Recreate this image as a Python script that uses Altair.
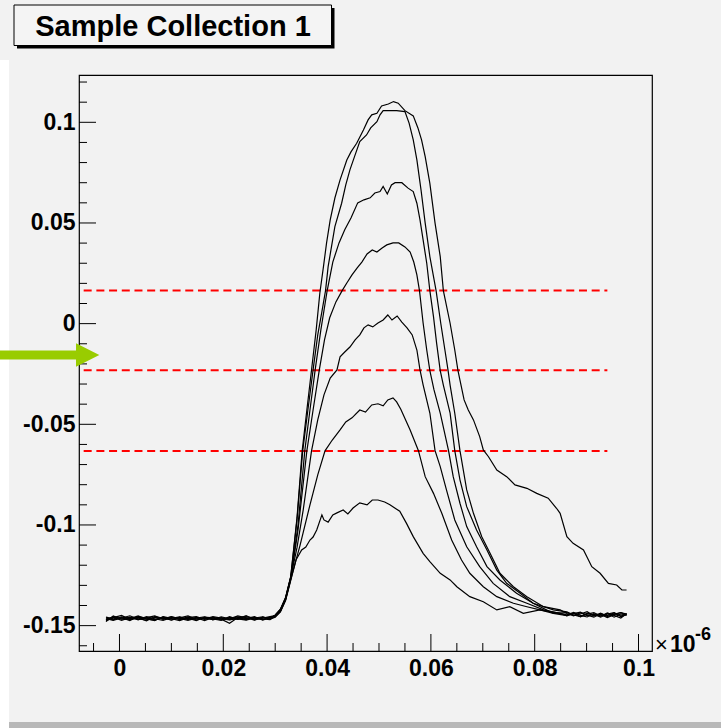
import altair as alt
import pandas as pd

# ---------------- data (x in units of 1e-6, as on the axis) ----------------
base_x = [-0.0026, -0.0012, 0.0004, 0.0020, 0.0036, 0.0052, 0.0068, 0.0084, 0.0100, 0.0116,
          0.0132, 0.0148, 0.0164, 0.0180, 0.0196, 0.0212, 0.0228, 0.0244, 0.0260, 0.0276, 0.0290]
rise_x = [0.0300, 0.0310, 0.0320, 0.0330]
tail_x = [0.0862, 0.0875, 0.0888, 0.0901, 0.0914, 0.0927, 0.0940, 0.0953, 0.0966, 0.0977]

c1_base = [-0.1480, -0.1452, -0.1468, -0.1458, -0.1471, -0.1455, -0.1466, -0.1474, -0.1460, -0.1469,
           -0.1457, -0.1472, -0.1463, -0.1470, -0.1456, -0.1466, -0.1452, -0.1461, -0.1468, -0.1459, -0.1462]
c2_base = [-0.1475, -0.1460, -0.1449, -0.1470, -0.1462, -0.1476, -0.1455, -0.1463, -0.1472, -0.1458,
           -0.1467, -0.1461, -0.1475, -0.1459, -0.1468, -0.1488, -0.1460, -0.1455, -0.1463, -0.1470, -0.1458]
c3_base = [-0.1462, -0.1471, -0.1456, -0.1465, -0.1452, -0.1468, -0.1473, -0.1458, -0.1466, -0.1475,
           -0.1460, -0.1455, -0.1469, -0.1462, -0.1472, -0.1459, -0.1466, -0.1450, -0.1471, -0.1463, -0.1455]
c4_base = [-0.1470, -0.1458, -0.1474, -0.1461, -0.1468, -0.1460, -0.1452, -0.1469, -0.1457, -0.1464,
           -0.1474, -0.1463, -0.1456, -0.1471, -0.1460, -0.1468, -0.1457, -0.1465, -0.1455, -0.1472, -0.1460]
c5_base = [-0.1458, -0.1466, -0.1460, -0.1475, -0.1455, -0.1463, -0.1470, -0.1459, -0.1473, -0.1461,
           -0.1452, -0.1468, -0.1460, -0.1466, -0.1474, -0.1455, -0.1469, -0.1461, -0.1473, -0.1458, -0.1466]
c6_base = [-0.1466, -0.1474, -0.1462, -0.1451, -0.1467, -0.1472, -0.1459, -0.1466, -0.1455, -0.1470,
           -0.1463, -0.1475, -0.1458, -0.1461, -0.1467, -0.1472, -0.1463, -0.1470, -0.1459, -0.1466, -0.1470]
c7_base = [-0.1472, -0.1455, -0.1467, -0.1469, -0.1458, -0.1466, -0.1475, -0.1455, -0.1464, -0.1457,
           -0.1470, -0.1459, -0.1467, -0.1455, -0.1463, -0.1470, -0.1466, -0.1473, -0.1462, -0.1456, -0.1468]

c1_rise = [-0.1448, -0.1418, -0.1360, -0.1255]
c2_rise = [-0.1452, -0.1422, -0.1362, -0.1258]
c3_rise = [-0.1450, -0.1425, -0.1366, -0.1262]
c4_rise = [-0.1455, -0.1428, -0.1370, -0.1266]
c5_rise = [-0.1447, -0.1420, -0.1365, -0.1260]
c6_rise = [-0.1452, -0.1430, -0.1372, -0.1270]
c7_rise = [-0.1458, -0.1432, -0.1375, -0.1275]

c1_x = [0.0342, 0.0352, 0.0361, 0.0370, 0.0379, 0.0386, 0.0393, 0.0399, 0.0406, 0.0415,
        0.0425, 0.0438, 0.0446, 0.0457, 0.0470, 0.0479, 0.0486, 0.0496, 0.0505, 0.0518,
        0.0528, 0.0537, 0.0550, 0.0566, 0.0575, 0.0582, 0.0589, 0.0598, 0.0608, 0.0618,
        0.0624, 0.0637, 0.0646, 0.0652, 0.0656, 0.0664, 0.0672, 0.0682, 0.0694, 0.0701,
        0.0711, 0.0727, 0.0746, 0.0762, 0.0785, 0.0804, 0.0826, 0.0842, 0.0849, 0.0862,
        0.0874, 0.0894, 0.0910, 0.0926, 0.0942, 0.0958, 0.0968, 0.0977]
c1_y = [-0.0965, -0.0632, -0.0429, -0.0230, -0.0031, 0.0151, 0.0283, 0.0401, 0.0515, 0.0624,
        0.0714, 0.0813, 0.0853, 0.0896, 0.0962, 0.1012, 0.1037, 0.1045, 0.1081, 0.1091,
        0.1103, 0.1095, 0.1058, 0.1032, 0.0972, 0.0913, 0.0830, 0.0697, 0.0499, 0.0333,
        0.0164, 0.0002, -0.0131, -0.0231, -0.0280, -0.0379, -0.0429, -0.0478, -0.0561, -0.0627,
        -0.0661, -0.0727, -0.0760, -0.0801, -0.0818, -0.0843, -0.0867, -0.0917, -0.0942, -0.1058,
        -0.1091, -0.1124, -0.1207, -0.1240, -0.1290, -0.1298, -0.1323, -0.1323]

c2_x = [0.0342, 0.0353, 0.0363, 0.0373, 0.0382, 0.0390, 0.0397, 0.0402, 0.0415, 0.0428,
        0.0436, 0.0444, 0.0454, 0.0463, 0.0476, 0.0484, 0.0496, 0.0502, 0.0508, 0.0534,
        0.0550, 0.0558, 0.0566, 0.0573, 0.0581, 0.0589, 0.0598, 0.0610, 0.0619, 0.0627,
        0.0633, 0.0637, 0.0646, 0.0656, 0.0669, 0.0682, 0.0698, 0.0714, 0.0733, 0.0759,
        0.0785, 0.0817, 0.0849]
c2_y = [-0.0975, -0.0632, -0.0429, -0.0230, -0.0056, 0.0060, 0.0164, 0.0283, 0.0482, 0.0598,
        0.0689, 0.0764, 0.0838, 0.0904, 0.0937, 0.0972, 0.1003, 0.1037, 0.1058, 0.1058,
        0.1053, 0.0996, 0.0913, 0.0813, 0.0664, 0.0499, 0.0333, 0.0164, 0.0002, -0.0131,
        -0.0231, -0.0305, -0.0445, -0.0631, -0.0826, -0.0942, -0.1058, -0.1141, -0.1240, -0.1307,
        -0.1356, -0.1406, -0.1422]

c3_x = [0.0344, 0.0357, 0.0367, 0.0377, 0.0388, 0.0400, 0.0411, 0.0423, 0.0434, 0.0446,
        0.0459, 0.0471, 0.0483, 0.0492, 0.0502, 0.0508, 0.0516, 0.0524, 0.0531, 0.0544,
        0.0556, 0.0566, 0.0573, 0.0579, 0.0585, 0.0592, 0.0598, 0.0605, 0.0611, 0.0618,
        0.0624, 0.0637, 0.0646, 0.0656, 0.0669, 0.0688, 0.0708, 0.0727, 0.0746, 0.0772,
        0.0797, 0.0836]
c3_y = [-0.1000, -0.0632, -0.0429, -0.0230, -0.0031, 0.0162, 0.0306, 0.0401, 0.0466, 0.0525,
        0.0600, 0.0615, 0.0625, 0.0649, 0.0656, 0.0681, 0.0644, 0.0689, 0.0700, 0.0700,
        0.0673, 0.0656, 0.0598, 0.0515, 0.0416, 0.0300, 0.0164, 0.0035, -0.0097, -0.0233,
        -0.0305, -0.0445, -0.0631, -0.0776, -0.0909, -0.1025, -0.1124, -0.1224, -0.1290, -0.1339,
        -0.1389, -0.1439]

c4_x = [0.0344, 0.0361, 0.0373, 0.0385, 0.0395, 0.0405, 0.0417, 0.0429, 0.0438, 0.0448,
        0.0458, 0.0467, 0.0477, 0.0487, 0.0496, 0.0506, 0.0515, 0.0527, 0.0538, 0.0550,
        0.0560, 0.0567, 0.0573, 0.0578, 0.0585, 0.0592, 0.0598, 0.0606, 0.0618, 0.0634,
        0.0643, 0.0656, 0.0669, 0.0688, 0.0708, 0.0733, 0.0765, 0.0797, 0.0836]
c4_y = [-0.1025, -0.0632, -0.0429, -0.0230, -0.0081, 0.0029, 0.0108, 0.0164, 0.0202, 0.0242,
        0.0277, 0.0306, 0.0346, 0.0366, 0.0356, 0.0376, 0.0391, 0.0401, 0.0401, 0.0381,
        0.0356, 0.0306, 0.0242, 0.0164, 0.0003, -0.0131, -0.0233, -0.0329, -0.0444, -0.0631,
        -0.0760, -0.0892, -0.1008, -0.1108, -0.1207, -0.1273, -0.1339, -0.1389, -0.1422]

c5_x = [0.0342, 0.0354, 0.0370, 0.0382, 0.0394, 0.0406, 0.0419, 0.0425, 0.0434, 0.0444,
        0.0454, 0.0463, 0.0471, 0.0479, 0.0488, 0.0498, 0.0508, 0.0517, 0.0525, 0.0535,
        0.0544, 0.0554, 0.0564, 0.0573, 0.0579, 0.0585, 0.0598, 0.0608, 0.0618, 0.0630,
        0.0646, 0.0669, 0.0694, 0.0720, 0.0752, 0.0785, 0.0817, 0.0849]
c5_y = [-0.1113, -0.0925, -0.0632, -0.0478, -0.0354, -0.0270, -0.0230, -0.0165, -0.0141, -0.0116,
        -0.0081, -0.0056, -0.0021, -0.0006, -0.0016, 0.0003, 0.0018, 0.0043, 0.0018, 0.0038,
        0.0008, -0.0021, -0.0056, -0.0131, -0.0230, -0.0304, -0.0444, -0.0631, -0.0710, -0.0826,
        -0.0975, -0.1108, -0.1207, -0.1290, -0.1356, -0.1389, -0.1422, -0.1439]

c6_x = [0.0348, 0.0367, 0.0382, 0.0396, 0.0410, 0.0425, 0.0436, 0.0448, 0.0463, 0.0474,
        0.0486, 0.0498, 0.0508, 0.0517, 0.0527, 0.0534, 0.0542, 0.0560, 0.0576, 0.0589,
        0.0605, 0.0621, 0.0640, 0.0659, 0.0675, 0.0701, 0.0727, 0.0759, 0.0785, 0.0810,
        0.0836]
c6_y = [-0.1100, -0.0900, -0.0751, -0.0632, -0.0578, -0.0528, -0.0488, -0.0468, -0.0429, -0.0439,
        -0.0404, -0.0398, -0.0408, -0.0379, -0.0369, -0.0389, -0.0425, -0.0528, -0.0631, -0.0760,
        -0.0843, -0.0942, -0.1075, -0.1174, -0.1240, -0.1307, -0.1356, -0.1389, -0.1406, -0.1422,
        -0.1439]

c7_x = [0.0340, 0.0351, 0.0359, 0.0367, 0.0373, 0.0380, 0.0390, 0.0394, 0.0402, 0.0411,
        0.0419, 0.0431, 0.0440, 0.0450, 0.0463, 0.0477, 0.0487, 0.0498, 0.0511, 0.0521,
        0.0540, 0.0553, 0.0566, 0.0585, 0.0598, 0.0618, 0.0637, 0.0650, 0.0675, 0.0701,
        0.0727, 0.0752, 0.0778, 0.0810, 0.0849]
c7_y = [-0.1174, -0.1124, -0.1110, -0.1075, -0.1060, -0.1025, -0.0950, -0.0975, -0.0986, -0.0950,
        -0.0940, -0.0926, -0.0945, -0.0916, -0.0890, -0.0900, -0.0876, -0.0876, -0.0886, -0.0900,
        -0.0932, -0.0992, -0.1058, -0.1141, -0.1182, -0.1240, -0.1273, -0.1307, -0.1356, -0.1381,
        -0.1422, -0.1406, -0.1439, -0.1422, -0.1439]

c2_tail = [-0.1440, -0.1452, -0.1436, -0.1448, -0.1458, -0.1441, -0.1450, -0.1437, -0.1455, -0.1445]
c3_tail = [-0.1450, -0.1438, -0.1456, -0.1443, -0.1435, -0.1452, -0.1440, -0.1458, -0.1442, -0.1448]
c4_tail = [-0.1432, -0.1447, -0.1455, -0.1438, -0.1450, -0.1444, -0.1460, -0.1446, -0.1435, -0.1443]
c5_tail = [-0.1446, -0.1434, -0.1449, -0.1457, -0.1440, -0.1453, -0.1437, -0.1449, -0.1462, -0.1440]
c6_tail = [-0.1435, -0.1449, -0.1442, -0.1431, -0.1451, -0.1438, -0.1455, -0.1443, -0.1436, -0.1447]
c7_tail = [-0.1452, -0.1440, -0.1433, -0.1450, -0.1444, -0.1458, -0.1442, -0.1435, -0.1452, -0.1441]

cut_levels = [0.0164, -0.0232, -0.0632]
cut_x_start = -0.0069
cut_x_end = 0.0940

y_major = [-0.15, -0.1, -0.05, 0, 0.05, 0.1]
y_minor = [-0.16, -0.14, -0.13, -0.12, -0.11, -0.09, -0.08, -0.07, -0.06, -0.04, -0.03, -0.02,
           -0.01, 0.01, 0.02, 0.03, 0.04, 0.06, 0.07, 0.08, 0.09, 0.11, 0.12]
x_major = [0, 0.02, 0.04, 0.06, 0.08, 0.1]
x_minor = [-0.005, 0.005, 0.01, 0.015, 0.025, 0.03, 0.035, 0.045, 0.05, 0.055, 0.065, 0.07,
           0.075, 0.085, 0.09, 0.095]

title_text = "Sample Collection 1"

# ---------------- build table ----------------
curves = [
    ("c1", c1_base, c1_rise, c1_x, c1_y, None),
    ("c2", c2_base, c2_rise, c2_x, c2_y, c2_tail),
    ("c3", c3_base, c3_rise, c3_x, c3_y, c3_tail),
    ("c4", c4_base, c4_rise, c4_x, c4_y, c4_tail),
    ("c5", c5_base, c5_rise, c5_x, c5_y, c5_tail),
    ("c6", c6_base, c6_rise, c6_x, c6_y, c6_tail),
    ("c7", c7_base, c7_rise, c7_x, c7_y, c7_tail),
]
rows = []
for name, b, r, mx, my, t in curves:
    assert len(mx) == len(my), name
    xs = base_x + rise_x + mx + (tail_x if t else [])
    ys = b + r + my + (t if t else [])
    for i, (xv, yv) in enumerate(zip(xs, ys)):
        rows.append({"x": xv, "y": yv, "curve": name, "i": i})
df = pd.DataFrame(rows)

W, H = 573, 576
xscale = alt.Scale(domain=[-0.0078, 0.1026], nice=False, zero=False)
yscale = alt.Scale(domain=[-0.1626, 0.1235], nice=False, zero=False)
FONT = "Liberation Sans"
BG = "#f2f2f2"

xaxis = alt.Axis(values=x_major, labelExpr="'' + datum.value", ticks=False, tickSize=0,
                 domain=False, grid=False, title=None, labelFont=FONT, labelFontWeight="bold",
                 labelFontSize=23, labelColor="black", labelPadding=6, labelFlush=False,
                 labelOverlap=False)
yaxis = alt.Axis(values=y_major, labelExpr="'' + datum.value", ticks=False, tickSize=0,
                 domain=False, grid=False, title=None, labelFont=FONT, labelFontWeight="bold",
                 labelFontSize=23, labelColor="black", labelPadding=4, labelFlush=False,
                 labelOverlap=False)

one = alt.Data(values=[{"a": 1}])

lines = alt.Chart(df).mark_line(color="black", strokeWidth=1.2, clip=True).encode(
    x=alt.X("x:Q", scale=xscale, axis=xaxis),
    y=alt.Y("y:Q", scale=yscale, axis=yaxis),
    detail="curve:N",
    order="i:Q",
)

cut_df = pd.DataFrame({"level": cut_levels, "xs": [cut_x_start] * 3, "xe": [cut_x_end] * 3})
cuts = alt.Chart(cut_df).mark_rule(color="#ff0000", strokeWidth=2, strokeDash=[8, 4.7]).encode(
    x=alt.X("xs:Q", scale=xscale, axis=xaxis),
    x2="xe:Q",
    y=alt.Y("level:Q", scale=yscale, axis=yaxis),
)

ytick_major = alt.Chart(pd.DataFrame({"v": y_major})).mark_rule(color="black", strokeWidth=1).encode(
    y=alt.Y("v:Q", scale=yscale, axis=yaxis), x=alt.value(0), x2=alt.value(17))
ytick_minor = alt.Chart(pd.DataFrame({"v": y_minor})).mark_rule(color="black", strokeWidth=1).encode(
    y=alt.Y("v:Q", scale=yscale, axis=yaxis), x=alt.value(0), x2=alt.value(8))
xtick_major = alt.Chart(pd.DataFrame({"v": x_major})).mark_rule(color="black", strokeWidth=1).encode(
    x=alt.X("v:Q", scale=xscale, axis=xaxis), y=alt.value(H), y2=alt.value(H - 17))
xtick_minor = alt.Chart(pd.DataFrame({"v": x_minor})).mark_rule(color="black", strokeWidth=1).encode(
    x=alt.X("v:Q", scale=xscale, axis=xaxis), y=alt.value(H), y2=alt.value(H - 8))

# decorations (pixel positions relative to the plot origin)
shadow = alt.Chart(one).mark_rect(color="black").encode(
    x=alt.value(-62), x2=alt.value(255.5), y=alt.value(-67), y2=alt.value(-26.5))
box = alt.Chart(one).mark_rect(fill="#f4f4f4", stroke="black", strokeWidth=1).encode(
    x=alt.value(-65), x2=alt.value(252.5), y=alt.value(-70), y2=alt.value(-29.5))
title = alt.Chart(one).mark_text(text=title_text, font=FONT, fontWeight="bold", fontSize=29,
                                 align="center", baseline="alphabetic", color="black").encode(
    x=alt.value(94), y=alt.value(-39))

arrow_path = "M -4.244 -0.385 L 2.252 -0.385 L 2.252 -1 L 4.244 0 L 2.252 1 L 2.252 0.385 L -4.244 0.385 Z"
arrow = alt.Chart(one).mark_point(shape=arrow_path, filled=True, size=548, color="#99cc00",
                                  opacity=1, strokeWidth=0).encode(
    x=alt.value(49.65 - 79), y=alt.value(355 - 75))

times = alt.Chart(one).mark_text(text="\u00d7", font=FONT, fontSize=22, align="left",
                                 baseline="alphabetic", color="black").encode(
    x=alt.value(576), y=alt.value(576.7))
ten = alt.Chart(one).mark_text(text="10", font=FONT, fontWeight="bold", fontSize=23, align="left",
                               baseline="alphabetic", color="black").encode(
    x=alt.value(591), y=alt.value(576.7))
expo = alt.Chart(one).mark_text(text="-6", font=FONT, fontWeight="bold", fontSize=18, align="left",
                                baseline="alphabetic", color="black").encode(
    x=alt.value(616), y=alt.value(565))

bottom_band = alt.Chart(one).mark_rect(color="#b8b8b8").encode(
    x=alt.value(-70), x2=alt.value(642), y=alt.value(647), y2=alt.value(653))
left_strip = alt.Chart(one).mark_rect(color="white").encode(
    x=alt.value(-79), x2=alt.value(-70), y=alt.value(-15), y2=alt.value(653))

chart = alt.layer(
    left_strip, bottom_band, shadow, box, title,
    cuts, lines, ytick_minor, ytick_major, xtick_minor, xtick_major,
    times, ten, expo, arrow,
).properties(
    width=W, height=H,
    autosize=alt.AutoSizeParams(type="none"),
    padding={"left": 79, "top": 75, "right": 69, "bottom": 77},
    background=BG,
).configure_view(
    stroke="black", strokeWidth=1.2, fill=BG,
)

chart.save("out.html", embed_options={"renderer": "svg", "actions": False})
